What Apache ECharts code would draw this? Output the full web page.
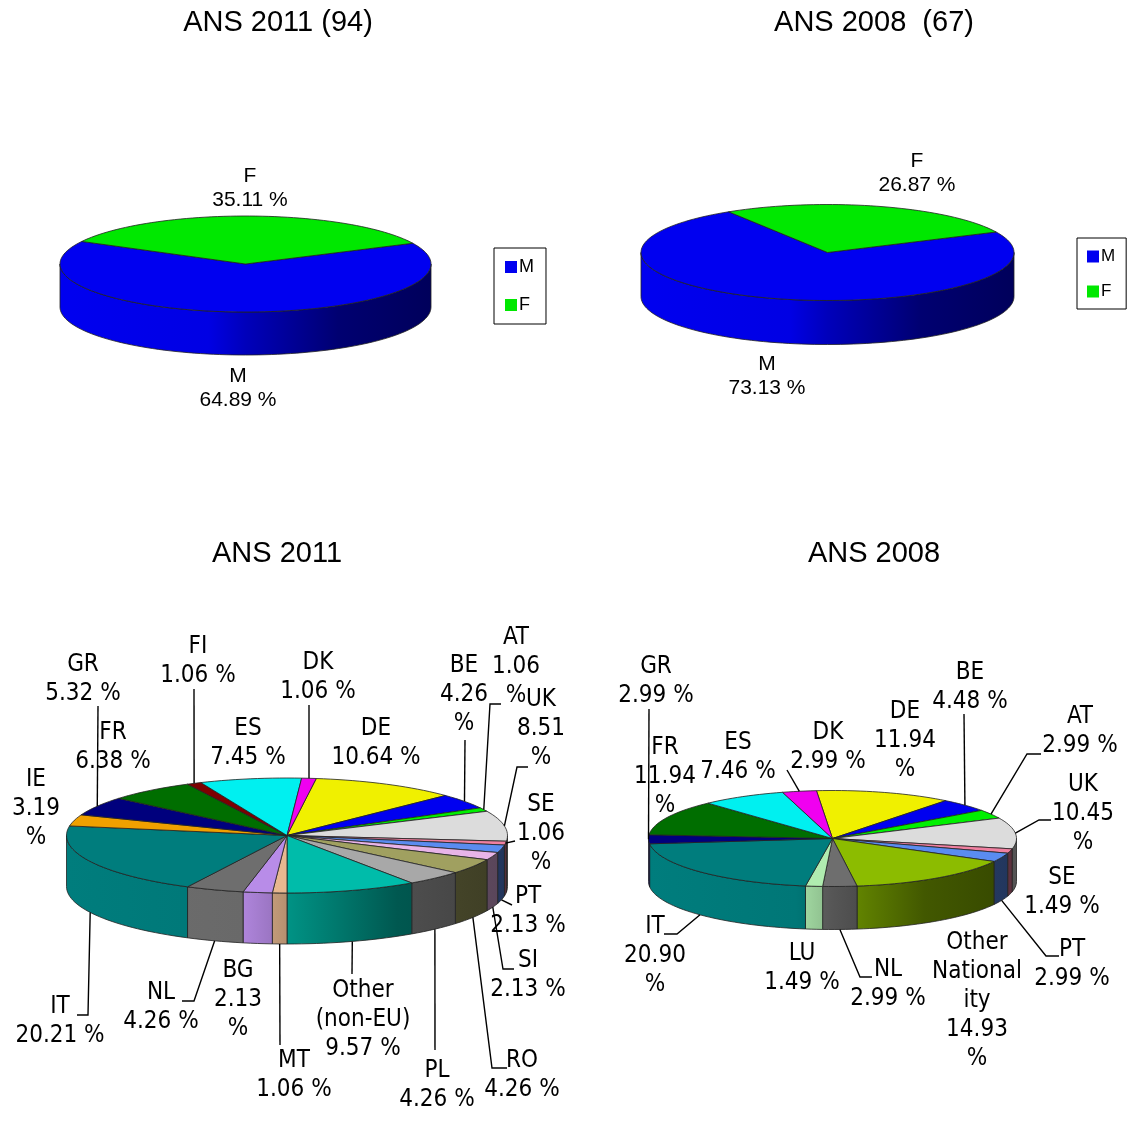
<!DOCTYPE html>
<html>
<head>
<meta charset="utf-8">
<style>
  html, body { margin: 0; padding: 0; background: #fff; }
  #chart { width: 1128px; height: 1124px; }
</style>
<script src="https://cdn.jsdelivr.net/npm/echarts@6/dist/echarts.min.js"></script>
</head>
<body>
<div id="chart"></div>
<script>
// data
const genderNames = ['M', 'F'];
const gender2011 = [64.89, 35.11];
const gender2008 = [73.13, 26.87];

const nat2011Names = ['DE', 'BE', 'AT', 'UK', 'SE', 'PT', 'SI', 'RO', 'PL', 'Other\n(non-EU)', 'MT', 'BG', 'NL', 'IT', 'IE', 'GR', 'FR', 'FI', 'ES', 'DK'];
const nat2011Values = [10.64, 4.26, 1.06, 8.51, 1.06, 2.13, 2.13, 4.26, 4.26, 9.57, 1.06, 2.13, 4.26, 20.21, 3.19, 5.32, 6.38, 1.06, 7.45, 1.06];

const nat2008Names = ['DE', 'BE', 'AT', 'UK', 'SE', 'PT', 'Other\nNational\nity', 'NL', 'LU', 'IT', 'GR', 'FR', 'ES', 'DK'];
const nat2008Values = [11.94, 4.48, 2.99, 10.45, 1.49, 2.99, 14.93, 2.99, 1.49, 20.90, 2.99, 11.94, 7.46, 2.99];

// colours per slice, same order as the arrays above
const genderColors = ['#0000f0', '#00e800'];
const nat2011Colors = ['#f0f000', '#0000f0', '#00f000', '#dcdcdc', '#f080a0', '#5a8cf0', '#e8b4e8', '#a0a060', '#a8a8a8', '#00bcaa', '#e8b890', '#b88ce8', '#6e6e6e', '#007d7d', '#f0a000', '#00007d', '#006e00', '#7d0000', '#00f0f0', '#f000f0'];
const nat2008Colors = ['#f0f000', '#0000f0', '#00f000', '#dcdcdc', '#f080a0', '#5a8cf0', '#8cbc00', '#6e6e6e', '#b0ecb0', '#007d7d', '#00007d', '#006e00', '#00f0f0', '#f000f0'];

// layout: label centre, optional wrap of the % sign, optional leader line
const gender2011Labels = [{ x: 238, y: 388 }, { x: 250, y: 188 }];
const gender2008Labels = [{ x: 767, y: 376 }, { x: 917, y: 173 }];
const nat2011Labels = [
  { x: 376, y: 743 },
  { x: 464, y: 695, wrap: true, line: [[465, 740]], rim: true },
  { x: 516, y: 667, wrap: true, line: [[490, 704], [501, 704]], rim: true },
  { x: 541, y: 729, wrap: true, line: [[517, 767], [528, 767]], rim: true },
  { x: 541, y: 834, wrap: true, line: [[515, 841]], rim: true },
  { x: 528, y: 911, line: [[512, 905]] },
  { x: 528, y: 975, line: [[503, 969], [514, 969]] },
  { x: 522, y: 1075, line: [[492, 1068], [507, 1068]] },
  { x: 437, y: 1085, line: [[435, 1050]] },
  { x: 363, y: 1020, line: [[352, 974]] },
  { x: 294, y: 1075, line: [[280, 1045]] },
  { x: 238, y: 1000, wrap: true },
  { x: 161, y: 1007, line: [[194, 1001], [182, 1001]] },
  { x: 60, y: 1021, line: [[88, 1015], [77, 1015]] },
  { x: 36, y: 809, wrap: true },
  { x: 83, y: 679, line: [[98, 706]], rim: true },
  { x: 113, y: 747 },
  { x: 198, y: 661, line: [[194, 689]], rim: true },
  { x: 248, y: 743 },
  { x: 318, y: 677, line: [[309, 705]], rim: true }
];
const nat2008Labels = [
  { x: 905, y: 741, wrap: true },
  { x: 970, y: 687, line: [[964, 714]], rim: true },
  { x: 1080, y: 731, line: [[1027, 754], [1041, 754]], rim: true },
  { x: 1083, y: 814, wrap: true, line: [[1039, 820], [1051, 820]], rim: true },
  { x: 1062, y: 892 },
  { x: 1072, y: 964, line: [[1046, 956], [1059, 956]] },
  { x: 977, y: 1001, wrap: true },
  { x: 888, y: 984, line: [[860, 977], [872, 977]] },
  { x: 802, y: 968 },
  { x: 655, y: 956, wrap: true, line: [[677, 934], [664, 934]] },
  { x: 656, y: 681, line: [[649, 709]], rim: true },
  { x: 665, y: 777, wrap: true },
  { x: 738, y: 757 },
  { x: 828, y: 747, line: [[787, 770]], rim: true }
];

const arialFont = { fontFamily: '"Liberation Sans", Arial, sans-serif', fontSize: 21, lineHeight: 24 };
const tahomaFont = { fontFamily: '"DejaVu Sans Condensed", "DejaVu Sans", sans-serif', fontSize: 24, lineHeight: 29 };

function shade(hex, f) {
  const n = parseInt(hex.slice(1), 16);
  const c = [n >> 16, (n >> 8) & 255, n & 255].map(v => Math.round(v * f));
  return 'rgb(' + c.join(',') + ')';
}

// one custom series per slice, so that the legend can find M and F by name
function pieSeries(pie, names, values, colors, labels, font) {
  const total = values.reduce((a, b) => a + b, 0);
  const rim = (deg, dz) => {
    const t = deg * Math.PI / 180;
    return [pie.cx + pie.rx * Math.sin(t), pie.cy - pie.ry * Math.cos(t) + dz];
  };
  const arc = (from, to, dz) => {
    const pts = [];
    const n = Math.max(1, Math.ceil(Math.abs(to - from) / 2));
    for (let i = 0; i <= n; i++) pts.push(rim(from + (to - from) * i / n, dz));
    return pts;
  };
  let cum = 0;
  return values.map((v, i) => {
    const a0 = pie.start + cum / total * 360;
    cum += v;
    const a1 = pie.start + cum / total * 360;
    const mid = (a0 + a1) / 2;
    const color = colors[i];
    const lab = labels[i];
    return {
      type: 'custom',
      name: names[i],
      coordinateSystem: 'none',
      silent: true,
      animation: false,
      itemStyle: { color: color },
      data: [[v]],
      renderItem: function (params, api) {
        const children = [];
        // visible wall, front half only
        const s0 = Math.max(a0, 90), s1 = Math.min(a1, 270);
        if (s1 > s0) {
          const top = arc(s0, s1, 0);
          const bottom = arc(s1, s0, pie.depth);
          children.push({
            type: 'polygon',
            z2: 1,
            shape: { points: top.concat(bottom) },
            style: {
              fill: {
                type: 'linear', global: true,
                x: pie.cx - pie.rx, y: 0, x2: pie.cx + pie.rx, y2: 0,
                colorStops: [
                  { offset: 0, color: shade(color, 1) },
                  { offset: 0.4, color: shade(color, 0.95) },
                  { offset: 0.5, color: shade(color, 0.78) },
                  { offset: 0.75, color: shade(color, 0.47) },
                  { offset: 1, color: shade(color, 0.38) }
                ]
              },
              stroke: '#222', lineWidth: 0.8
            }
          });
        }
        // top face
        children.push({
          type: 'polygon',
          z2: 2,
          shape: { points: [[pie.cx, pie.cy]].concat(arc(a0, a1, 0)) },
          style: { fill: color, stroke: '#222', lineWidth: 0.8 }
        });
        // leader line starts from the middle of the slice
        if (lab.line) {
          const start = rim(mid, lab.rim ? 0 : pie.depth);
          children.push({
            type: 'polyline',
            z2: 3,
            shape: { points: [start].concat(lab.line) },
            style: { stroke: '#000', lineWidth: 1.4, fill: null }
          });
        }
        const pct = v.toFixed(2) + (lab.wrap ? '\n%' : ' %');
        children.push({
          type: 'text',
          z2: 4,
          style: Object.assign({
            text: names[i] + '\n' + pct,
            x: lab.x, y: lab.y,
            align: 'center', verticalAlign: 'middle',
            fill: '#000'
          }, font)
        });
        return { type: 'group', children: children };
      }
    };
  });
}

const pies = {
  g2011: { cx: 245.5, cy: 264, rx: 185.5, ry: 48, depth: 43, start: 64.4 },
  g2008: { cx: 827.5, cy: 252.5, rx: 186.5, ry: 48, depth: 44, start: 64.7 },
  n2011: { cx: 287, cy: 835.5, rx: 220.5, ry: 57.5, depth: 51, start: 7.63 },
  n2008: { cx: 832.5, cy: 838.5, rx: 184, ry: 48, depth: 43, start: -5 }
};

const titleStyle = { fontFamily: '"Liberation Sans Narrow", "Liberation Sans", Arial, sans-serif', fontSize: 29, fontWeight: 'normal', color: '#000' };
const legendBase = {
  orient: 'vertical',
  data: genderNames,
  icon: 'rect',
  itemWidth: 12,
  itemHeight: 12,
  selectedMode: false,
  backgroundColor: '#fff',
  borderColor: '#000',
  borderWidth: 1,
  borderRadius: 0
};

const chart = echarts.init(document.getElementById('chart'));
chart.setOption({
  animation: false,
  backgroundColor: '#fff',
  title: [
    { text: 'ANS 2011 (94)', left: 273, top: 3, textAlign: 'center', textStyle: titleStyle },
    { text: 'ANS 2008  (67)', left: 869, top: 3, textAlign: 'center', textStyle: titleStyle },
    { text: 'ANS 2011', left: 272, top: 534, textAlign: 'center', textStyle: titleStyle },
    { text: 'ANS 2008', left: 869, top: 534, textAlign: 'center', textStyle: titleStyle }
  ],
  legend: [
    Object.assign({}, legendBase, {
      left: 494, top: 248, padding: [10, 12, 10, 11], itemGap: 20,
      textStyle: { fontFamily: arialFont.fontFamily, fontSize: 18, color: '#000', padding: [0, 0, 0, -3] }
    }),
    Object.assign({}, legendBase, {
      left: 1077, top: 238, padding: [10, 11, 9, 10], itemGap: 18,
      textStyle: { fontFamily: arialFont.fontFamily, fontSize: 17, color: '#000', padding: [0, 0, 0, -3] }
    })
  ],
  series: [].concat(
    pieSeries(pies.g2011, genderNames, gender2011, genderColors, gender2011Labels, arialFont),
    pieSeries(pies.g2008, genderNames, gender2008, genderColors, gender2008Labels, arialFont),
    pieSeries(pies.n2011, nat2011Names, nat2011Values, nat2011Colors, nat2011Labels, tahomaFont),
    pieSeries(pies.n2008, nat2008Names, nat2008Values, nat2008Colors, nat2008Labels, tahomaFont)
  )
});
</script>
</body>
</html>
